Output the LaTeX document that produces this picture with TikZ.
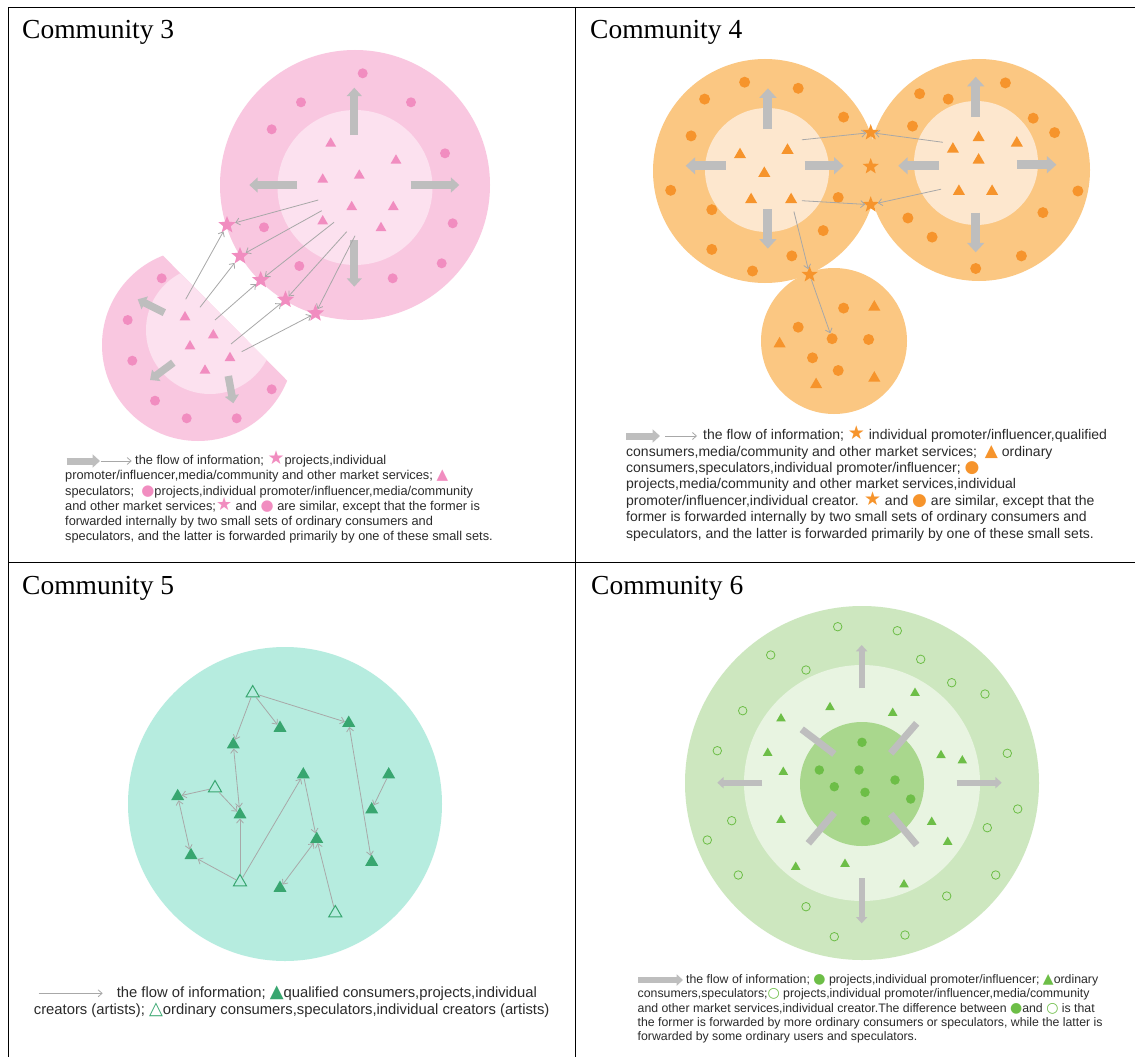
\documentclass[tikz,border=0pt]{standalone}
\usepackage{fontspec}
\setmainfont{Liberation Serif}
\setsansfont{Liberation Sans}
\newfontfamily\symfont{DejaVu Sans}
\usetikzlibrary{arrows.meta, shapes.geometric}

\definecolor{pinkout}{HTML}{F9C7E0}
\definecolor{pinkin}{HTML}{FCE1EF}
\definecolor{pinkmark}{HTML}{F18DC0}
\definecolor{orout}{HTML}{FBC782}
\definecolor{orin}{HTML}{FDE7CE}
\definecolor{ormark}{HTML}{F6942C}
\definecolor{tealbg}{HTML}{B6ECDF}
\definecolor{tealmark}{HTML}{38A670}
\definecolor{grout}{HTML}{CDE7BF}
\definecolor{grmid}{HTML}{E8F4E1}
\definecolor{grin}{HTML}{A9D78D}
\definecolor{grmark}{HTML}{6DBE47}
\definecolor{blockgray}{HTML}{BEBEBE}
\definecolor{flowgray}{HTML}{A8A8A8}
\definecolor{legtext}{HTML}{2B2B2B}

\newcommand{\sym}[3]{{\symfont\fontsize{#1}{#1}\selectfont\textcolor{#2}{#3}}}

\tikzset{
  commtitle/.style={anchor=base west, inner sep=0pt, font=\fontsize{27.5}{30}\selectfont},
  legline/.style={anchor=base west, inner sep=0pt, text=legtext, font=\sffamily\fontsize{#1}{#1}\selectfont},
  dot/.style={circle, fill=#1, inner sep=0pt, minimum size=10pt},
  ring/.style={circle, draw=#1, line width=0.8pt, inner sep=0pt, minimum size=8.5pt},
  tri/.style={regular polygon, regular polygon sides=3, fill=#1, inner sep=0pt, minimum size=12.5pt},
  opentri/.style={regular polygon, regular polygon sides=3, draw=#1, line width=1pt, inner sep=0pt, minimum size=15pt},
  starmark/.style={star, star points=5, star point ratio=2.3, fill=#1, inner sep=0pt, minimum size=18pt},
  blockarrow/.style={draw=blockgray, line width=#1, -{Triangle[length=0pt 1.05, width=0pt 1.85]}},
  blockarrow/.default=8pt,
  bar/.style={draw=blockgray, line width=7pt},
  flow/.style={draw=flowgray, line width=0.8pt, -{Straight Barb[length=4pt, width=7pt]}},
  flowboth/.style={draw=flowgray, line width=0.8pt, {Straight Barb[length=4pt, width=7pt]}-{Straight Barb[length=4pt, width=7pt]}},
}

\begin{document}
\begin{tikzpicture}[x=1pt, y=-1pt]
\useasboundingbox (0,0) rectangle (1135,1057);
\fill[white] (0,0) rectangle (1135,1057);

% frame
\draw[line width=1pt] (8,1057) -- (8,8) -- (1135,8);
\draw[line width=1pt] (575,8) -- (575,1057);
\draw[line width=1pt] (8,562) -- (1135,562);

\node[commtitle] (t3) at (22,39) {Community 3};
\node[commtitle] (t4) at (590,39) {Community 4};
\node[commtitle] (t5) at (22,594) {Community 5};
\node[commtitle] (t6) at (591,594) {Community 6};

% community 3
\fill[pinkout] (355,185) circle[radius=135];
\fill[pinkin] (355,187.5) circle[radius=77.5];
\begin{scope}
  \clip (60,152) -- (360,454) -- (60,454) -- cycle;
  \fill[pinkout] (198,345) circle[radius=96];
  \fill[pinkin] (210,330) circle[radius=64];
\end{scope}
\draw[blockarrow] (354.3,135) -- (354.3,87.7);
\draw[blockarrow] (297.3,185) -- (249.3,185);
\draw[blockarrow] (410.7,185) -- (459.3,185);
\draw[blockarrow] (354.3,240) -- (354.3,286.7);
\draw[blockarrow=7.5pt] (164.3,312.7) -- (137.7,299.3);
\draw[blockarrow=7.5pt] (173.3,362.7) -- (150,380);
\draw[blockarrow=7.5pt] (228.3,376) -- (233.3,403.3);
\foreach \x/\y [count=\i] in {362.7/73.3, 301/102.3, 411/102.3, 271.7/129.3, 445/153.3,
    452.7/223.3, 264/227.3, 299.3/266, 441.7/263.3, 392.7/278.3}
  \node[dot=pinkmark] (c3d\i) at (\x,\y) {};
\foreach \x/\y [count=\i] in {330.7/143.5, 396/160.5, 322.7/179.5, 359.3/175.5,
    351.7/207, 393.3/207, 322.7/221.3, 381/228}
  \node[tri=pinkmark] (c3t\i) at (\x,\y) {};
\foreach \x/\y [count=\i] in {161.7/278.3, 127.7/320, 132.3/360.7, 155/400.7,
    186.7/418.3, 236.7/418.3, 271.7/389.3}
  \node[dot=pinkmark] (c3e\i) at (\x,\y) {};
\foreach \x/\y [count=\i] in {185/317.3, 213.3/335.3, 190/346.3, 230/358, 205/370.6}
  \node[tri=pinkmark] (c3u\i) at (\x,\y) {};
\foreach \x/\y [count=\i] in {227/225, 240/256, 260.7/280, 285.5/299.7, 315.5/313.3}
  \node[starmark=pinkmark] (c3s\i) at (\x,\y) {};
\coordinate (c3a1) at (318.3,200);
\coordinate (c3a2) at (321.7,210.7);
\coordinate (c3a3) at (334,222.3);
\coordinate (c3a4) at (346.7,231.7);
\coordinate (c3a5) at (355,235.7);
\coordinate (c3b1) at (185.7,299.3);
\coordinate (c3b2) at (200,307.3);
\coordinate (c3b3) at (215,320);
\coordinate (c3b4) at (231,344);
\coordinate (c3b5) at (241.7,351.7);
\foreach \i in {1,...,5} {
  \draw[flow] (c3a\i) -- (c3s\i);
  \draw[flow] (c3b\i) -- (c3s\i);
}

% community 4
\fill[orout] (765,171) circle[radius=112];
\fill[orout] (979,170) circle[radius=111];
\fill[orout] (834,341) circle[radius=73];
\fill[orin] (767,170) circle[radius=62];
\fill[orin] (976,163) circle[radius=62];
\draw[blockarrow=9pt] (767.9,129) -- (767.9,88.3);
\draw[blockarrow=9pt] (725.7,165.8) -- (685.7,165.8);
\draw[blockarrow=9pt] (804.6,165.8) -- (843.6,165.8);
\draw[blockarrow=9pt] (767.9,209) -- (767.9,248.6);
\draw[blockarrow=9pt] (975.7,117.1) -- (975.7,76.8);
\draw[blockarrow=9pt] (938.6,165.8) -- (898.2,165.8);
\draw[blockarrow=9pt] (1016.8,164.7) -- (1056.4,164.7);
\draw[blockarrow=9pt] (975.7,212.6) -- (975.7,252.3);
\foreach \x/\y [count=\i] in {744.6/82.2, 798.2/88.3, 704.6/99.1, 843.6/117.1, 691.1/135.9,
    670.7/190.3, 838.2/197.5, 711.8/209.7, 823.2/230.6, 711.8/249.4, 791.8/255.9, 752.5/271,
    1005.4/82.9, 919.6/93.7, 948.2/99.1, 1033.2/118.2, 912.5/126.1, 1054.6/132.6,
    1077.9/191, 1042.9/212.6, 907.9/218, 932.1/237.1, 1021.4/255.9, 975.7/268.5}
  \node[dot=ormark, minimum size=11pt] (c4d\i) at (\x,\y) {};
\foreach \x/\y [count=\i] in {740/154.7, 787.5/150.3, 764.3/173.4, 751.1/199.7, 791.1/199.7,
    978.6/137.7, 1016.8/143.1, 952.9/149.2, 978.6/160.1, 958.9/191.4, 992.1/191.4,
    874.3/307.1, 779.6/343.8, 816.1/384.6, 874.3/378.1}
  \node[tri=ormark, minimum size=14pt] (c4t\i) at (\x,\y) {};
\foreach \x/\y [count=\i] in {843.6/308.1, 798.2/327.2, 832.1/338.7, 868.6/339.5,
    812.5/357.8, 838.2/370.5}
  \node[dot=ormark, minimum size=11pt] (c4b\i) at (\x,\y) {};
\foreach \x/\y [count=\i] in {870.7/132.6, 870.7/166.5, 870.7/204.7, 809.6/274.6}
  \node[starmark=ormark, minimum size=17pt, star point ratio=2.4] (c4s\i) at (\x,\y) {};
\coordinate (c4l1) at (801.8,139.8);
\coordinate (c4r1) at (942.9,142.3);
\coordinate (c4l3) at (801.8,200.7);
\coordinate (c4r3) at (941.1,189.2);
\coordinate (c4l4) at (793.9,211.5);
\draw[flow] (c4l1) -- (c4s1);
\draw[flow] (c4r1) -- (c4s1);
\draw[flow] (c4l3) -- (c4s3);
\draw[flow] (c4r3) -- (c4s3);
\draw[flow] (c4l4) -- (c4s4);
\draw[flow] (c4s4) -- (c4b3);

% community 5
\fill[tealbg] (285,804) circle[radius=157];
\foreach \x/\y [count=\i] in {252.7/693, 215/788, 240/882, 335.3/913}
  \node[opentri=tealmark] (o\i) at (\x,\y) {};
\foreach \x/\y [count=\i] in {280/728, 348.7/723, 233.3/744.6, 303.3/774.6, 388.7/774.6,
    177.7/796.3, 240/814.6, 371.7/809.6, 316.7/839, 191/855.3, 371.7/862, 280/888}
  \node[tri=tealmark, minimum size=15pt] (f\i) at (\x,\y) {};
\draw[flow] (o1) -- (f3);
\draw[flow] (o1) -- (f1);
\draw[flow] (o1) -- (f2);
\draw[flowboth] (f2) -- (f11);
\draw[flowboth] (f3) -- (f7);
\draw[flow] (o2) -- (f6);
\draw[flow] (o2) -- (f7);
\draw[flowboth] (f6) -- (f10);
\draw[flow] (o3) -- (f10);
\draw[flow] (o3) -- (f7);
\draw[flow] (o3) -- (f4);
\draw[flow] (f4) -- (f9);
\draw[flowboth] (f12) -- (f9);
\draw[flow] (o4) -- (f9);
\draw[flow] (f5) -- (f8);

% community 6
\fill[grout] (862,783) circle[radius=177];
\fill[grmid] (862,783) circle[radius=118];
\fill[grin] (862,784) circle[radius=62];
\draw[blockarrow=6pt] (861.7,688.3) -- (861.7,645);
\draw[blockarrow=6pt] (861.7,878.3) -- (861.7,923.3);
\draw[blockarrow=6pt] (762.3,782.7) -- (717.3,782.7);
\draw[blockarrow=6pt] (956.7,782.7) -- (1001.7,782.7);
\draw[bar] (801.7,729.3) -- (834.3,754);
\draw[bar] (916.7,723.3) -- (890.7,753.3);
\draw[bar] (808.3,843.3) -- (834.3,812.7);
\draw[bar] (916.7,845) -- (890.7,814);
\foreach \x/\y [count=\i] in {837.7/626.7, 897.3/630.7, 770.7/655, 920.7/659.3, 806/670,
    951.7/682.7, 985/694, 742.7/710.7, 717.3/750.7, 1007.3/753.3, 1017.7/809, 731.7/820.7,
    987.3/827.7, 707.3/840, 995.7/875, 738.3/875, 946.7/896, 806/906.7, 834.3/936.7, 905/935}
  \node[ring=grmark] (c6o\i) at (\x,\y) {};
\foreach \x/\y [count=\i] in {915/693, 830/707.3, 892.7/713, 781/718.6, 767.7/753, 941/755.3,
    962.3/760.6, 783.3/772, 781/820, 931.7/822, 947.7/842, 795.7/867, 845/864, 904/884.6}
  \node[tri=grmark, minimum size=11pt] (c6t\i) at (\x,\y) {};
\foreach \x/\y [count=\i] in {862/742.3, 819.3/770, 859/770, 895/780, 834.3/786.7,
    865/792.3, 910.7/799, 865.3/820.7}
  \node[dot=grmark, minimum size=9.5pt] (c6d\i) at (\x,\y) {};

% legends
\draw[blockarrow=7pt] (66.7,461) -- (100,461);
\draw[flow] (100.7,461) -- (131.7,461);
\node[legline=12.8] (l3a) at (135,464.4) {the flow of information; \sym{19}{pinkmark}{★}projects,individual};
\node[legline=12.8] (l3b) at (65,479.7) {promoter/influencer,media/community and other market services; \sym{15}{pinkmark}{▲}};
\node[legline=12.8] (l3c) at (65,495) {speculators;\ \ \sym{15}{pinkmark}{●}projects,individual promoter/influencer,media/community};
\node[legline=12.8] (l3d) at (65,510.3) {and other market services;\sym{18}{pinkmark}{★} and \sym{15}{pinkmark}{●} are similar, except that the former is};
\node[legline=12.8] (l3e) at (65,525.6) {forwarded internally by two small sets of ordinary consumers and};
\node[legline=12.8] (l3f) at (65,540.9) {speculators, and the latter is forwarded primarily by one of these small sets.};

\draw[blockarrow=7pt] (626,436) -- (660,436);
\draw[flow] (665,436) -- (697,436);
\node[legline=14] (l4a) at (703,439.7) {the flow of information; \sym{19}{ormark}{★} individual promoter/influencer,qualified};
\node[legline=14] (l4b) at (626,456.1) {consumers,media/community and other market services;\ \ \sym{17}{ormark}{▲} ordinary};
\node[legline=14] (l4c) at (626,472.5) {consumers,speculators,individual promoter/influencer; \sym{17}{ormark}{●}};
\node[legline=14] (l4d) at (626,488.9) {projects,media/community and other market services,individual};
\node[legline=14] (l4e) at (626,505.3) {promoter/influencer,individual creator. \sym{19}{ormark}{★} and \sym{17}{ormark}{●} are similar, except that the};
\node[legline=14] (l4f) at (626,521.7) {former is forwarded internally by two small sets of ordinary consumers and};
\node[legline=14] (l4g) at (626,538.1) {speculators, and the latter is forwarded primarily by one of these small sets.};

\draw[flow] (38.5,993.3) -- (102.7,993.3);
\node[legline=14.8] (l5a) at (116.6,997.2) {the flow of information; \sym{18}{tealmark}{▲}qualified consumers,projects,individual};
\node[legline=14.8] (l5b) at (33.7,1014.9) {creators (artists); \sym{18}{tealmark}{△}ordinary consumers,speculators,individual creators (artists)};

\draw[blockarrow=6pt] (638,980) -- (683,980);
\node[legline=12.3] (l6a) at (686,983.3) {the flow of information; \sym{14}{grmark}{●} projects,individual promoter/influencer; \sym{14}{grmark}{▲}ordinary};
\node[legline=12.3] (l6b) at (637.5,997.7) {consumers,speculators;\sym{14}{grmark}{○} projects,individual promoter/influencer,media/community};
\node[legline=12.3] (l6c) at (637.5,1012) {and other market services,individual creator.The difference between \sym{14}{grmark}{●}and \sym{14}{grmark}{○} is that};
\node[legline=12.3] (l6d) at (637.5,1026.4) {the former is forwarded by more ordinary consumers or speculators, while the latter is};
\node[legline=12.3] (l6e) at (637.5,1040.7) {forwarded by some ordinary users and speculators.};
\end{tikzpicture}
\end{document}
